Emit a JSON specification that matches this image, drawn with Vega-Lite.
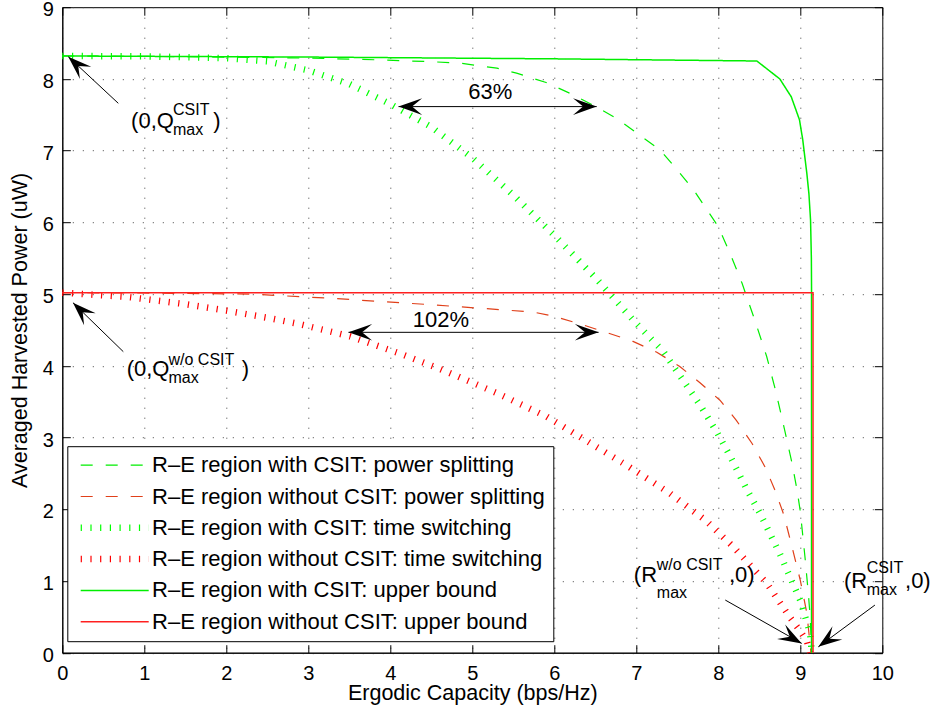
{
  "$schema": "https://vega.github.io/schema/vega-lite/v6.json",
  "width": 820,
  "height": 645.5,
  "autosize": {"type": "none"},
  "padding": {"left": 62.3, "top": 7.2, "right": 53.7, "bottom": 65.3},
  "background": "white",
  "config": {
    "view": {"stroke": "black", "strokeWidth": 1},
    "font": "Liberation Sans",
    "axis": {"labelFont": "Liberation Sans", "titleFont": "Liberation Sans", "labelColor": "black", "titleColor": "black", "tickColor": "black", "domainColor": "black", "titleFontWeight": "normal", "tickWidth": 1, "domainWidth": 1}
  },
  "datasets": {
    "curves": [
      {"s": "R–E region with CSIT: power splitting", "x": 0, "y": 8.32},
      {"s": "R–E region with CSIT: power splitting", "x": 1, "y": 8.315},
      {"s": "R–E region with CSIT: power splitting", "x": 2, "y": 8.305},
      {"s": "R–E region with CSIT: power splitting", "x": 3, "y": 8.29},
      {"s": "R–E region with CSIT: power splitting", "x": 3.88, "y": 8.265},
      {"s": "R–E region with CSIT: power splitting", "x": 4.5, "y": 8.24},
      {"s": "R–E region with CSIT: power splitting", "x": 4.85, "y": 8.22},
      {"s": "R–E region with CSIT: power splitting", "x": 5.3, "y": 8.15},
      {"s": "R–E region with CSIT: power splitting", "x": 5.54, "y": 8.08},
      {"s": "R–E region with CSIT: power splitting", "x": 5.9, "y": 7.95},
      {"s": "R–E region with CSIT: power splitting", "x": 6.19, "y": 7.8},
      {"s": "R–E region with CSIT: power splitting", "x": 6.48, "y": 7.63},
      {"s": "R–E region with CSIT: power splitting", "x": 6.76, "y": 7.45},
      {"s": "R–E region with CSIT: power splitting", "x": 7.0, "y": 7.25},
      {"s": "R–E region with CSIT: power splitting", "x": 7.29, "y": 7.01},
      {"s": "R–E region with CSIT: power splitting", "x": 7.5, "y": 6.73},
      {"s": "R–E region with CSIT: power splitting", "x": 7.7, "y": 6.45},
      {"s": "R–E region with CSIT: power splitting", "x": 8.0, "y": 5.94},
      {"s": "R–E region with CSIT: power splitting", "x": 8.15, "y": 5.55},
      {"s": "R–E region with CSIT: power splitting", "x": 8.29, "y": 5.15},
      {"s": "R–E region with CSIT: power splitting", "x": 8.45, "y": 4.62},
      {"s": "R–E region with CSIT: power splitting", "x": 8.59, "y": 4.13},
      {"s": "R–E region with CSIT: power splitting", "x": 8.7, "y": 3.65},
      {"s": "R–E region with CSIT: power splitting", "x": 8.81, "y": 3.1},
      {"s": "R–E region with CSIT: power splitting", "x": 8.9, "y": 2.64},
      {"s": "R–E region with CSIT: power splitting", "x": 8.96, "y": 2.27},
      {"s": "R–E region with CSIT: power splitting", "x": 9.0, "y": 1.97},
      {"s": "R–E region with CSIT: power splitting", "x": 9.06, "y": 1.3},
      {"s": "R–E region with CSIT: power splitting", "x": 9.1, "y": 0.8},
      {"s": "R–E region with CSIT: power splitting", "x": 9.12, "y": 0.5},
      {"s": "R–E region with CSIT: power splitting", "x": 9.14, "y": 0},
      {"s": "R–E region without CSIT: power splitting", "x": 0, "y": 5.02},
      {"s": "R–E region without CSIT: power splitting", "x": 1, "y": 5.015},
      {"s": "R–E region without CSIT: power splitting", "x": 2.29, "y": 5.0},
      {"s": "R–E region without CSIT: power splitting", "x": 3.3, "y": 4.94},
      {"s": "R–E region without CSIT: power splitting", "x": 4.52, "y": 4.85},
      {"s": "R–E region without CSIT: power splitting", "x": 5.74, "y": 4.75},
      {"s": "R–E region without CSIT: power splitting", "x": 6.0, "y": 4.69},
      {"s": "R–E region without CSIT: power splitting", "x": 6.35, "y": 4.57},
      {"s": "R–E region without CSIT: power splitting", "x": 6.65, "y": 4.46},
      {"s": "R–E region without CSIT: power splitting", "x": 6.96, "y": 4.34},
      {"s": "R–E region without CSIT: power splitting", "x": 7.25, "y": 4.19},
      {"s": "R–E region without CSIT: power splitting", "x": 7.53, "y": 3.99},
      {"s": "R–E region without CSIT: power splitting", "x": 7.78, "y": 3.76},
      {"s": "R–E region without CSIT: power splitting", "x": 8.02, "y": 3.52},
      {"s": "R–E region without CSIT: power splitting", "x": 8.22, "y": 3.24},
      {"s": "R–E region without CSIT: power splitting", "x": 8.41, "y": 2.92},
      {"s": "R–E region without CSIT: power splitting", "x": 8.57, "y": 2.59},
      {"s": "R–E region without CSIT: power splitting", "x": 8.69, "y": 2.27},
      {"s": "R–E region without CSIT: power splitting", "x": 8.8, "y": 1.92},
      {"s": "R–E region without CSIT: power splitting", "x": 8.9, "y": 1.47},
      {"s": "R–E region without CSIT: power splitting", "x": 9.0, "y": 1.01},
      {"s": "R–E region without CSIT: power splitting", "x": 9.08, "y": 0.55},
      {"s": "R–E region without CSIT: power splitting", "x": 9.13, "y": 0},
      {"s": "R–E region with CSIT: time switching", "x": 0, "y": 8.32},
      {"s": "R–E region with CSIT: time switching", "x": 1, "y": 8.315},
      {"s": "R–E region with CSIT: time switching", "x": 2.0, "y": 8.29},
      {"s": "R–E region with CSIT: time switching", "x": 2.5, "y": 8.245},
      {"s": "R–E region with CSIT: time switching", "x": 3.0, "y": 8.12},
      {"s": "R–E region with CSIT: time switching", "x": 3.5, "y": 7.93},
      {"s": "R–E region with CSIT: time switching", "x": 4.0, "y": 7.65},
      {"s": "R–E region with CSIT: time switching", "x": 4.5, "y": 7.33},
      {"s": "R–E region with CSIT: time switching", "x": 5.0, "y": 6.9},
      {"s": "R–E region with CSIT: time switching", "x": 5.5, "y": 6.38},
      {"s": "R–E region with CSIT: time switching", "x": 6.0, "y": 5.82},
      {"s": "R–E region with CSIT: time switching", "x": 6.5, "y": 5.23},
      {"s": "R–E region with CSIT: time switching", "x": 7.0, "y": 4.59},
      {"s": "R–E region with CSIT: time switching", "x": 7.33, "y": 4.2},
      {"s": "R–E region with CSIT: time switching", "x": 7.57, "y": 3.8},
      {"s": "R–E region with CSIT: time switching", "x": 7.78, "y": 3.45},
      {"s": "R–E region with CSIT: time switching", "x": 7.98, "y": 3.08},
      {"s": "R–E region with CSIT: time switching", "x": 8.14, "y": 2.75},
      {"s": "R–E region with CSIT: time switching", "x": 8.35, "y": 2.27},
      {"s": "R–E region with CSIT: time switching", "x": 8.51, "y": 1.94},
      {"s": "R–E region with CSIT: time switching", "x": 8.75, "y": 1.38},
      {"s": "R–E region with CSIT: time switching", "x": 9.0, "y": 0.73},
      {"s": "R–E region with CSIT: time switching", "x": 9.12, "y": 0.27},
      {"s": "R–E region with CSIT: time switching", "x": 9.14, "y": 0},
      {"s": "R–E region without CSIT: time switching", "x": 0, "y": 5.02},
      {"s": "R–E region without CSIT: time switching", "x": 0.8, "y": 4.96},
      {"s": "R–E region without CSIT: time switching", "x": 1.5, "y": 4.86},
      {"s": "R–E region without CSIT: time switching", "x": 2.0, "y": 4.77},
      {"s": "R–E region without CSIT: time switching", "x": 2.5, "y": 4.67},
      {"s": "R–E region without CSIT: time switching", "x": 2.9, "y": 4.58},
      {"s": "R–E region without CSIT: time switching", "x": 3.51, "y": 4.41},
      {"s": "R–E region without CSIT: time switching", "x": 4.12, "y": 4.17},
      {"s": "R–E region without CSIT: time switching", "x": 4.6, "y": 3.96},
      {"s": "R–E region without CSIT: time switching", "x": 5.3, "y": 3.62},
      {"s": "R–E region without CSIT: time switching", "x": 5.91, "y": 3.29},
      {"s": "R–E region without CSIT: time switching", "x": 6.4, "y": 2.95},
      {"s": "R–E region without CSIT: time switching", "x": 6.9, "y": 2.6},
      {"s": "R–E region without CSIT: time switching", "x": 7.4, "y": 2.23},
      {"s": "R–E region without CSIT: time switching", "x": 7.85, "y": 1.84},
      {"s": "R–E region without CSIT: time switching", "x": 8.18, "y": 1.48},
      {"s": "R–E region without CSIT: time switching", "x": 8.59, "y": 0.97},
      {"s": "R–E region without CSIT: time switching", "x": 8.87, "y": 0.5},
      {"s": "R–E region without CSIT: time switching", "x": 9.0, "y": 0.3},
      {"s": "R–E region without CSIT: time switching", "x": 9.08, "y": 0.16},
      {"s": "R–E region without CSIT: time switching", "x": 9.12, "y": 0},
      {"s": "R–E region with CSIT: upper bound", "x": 0, "y": 8.32},
      {"s": "R–E region with CSIT: upper bound", "x": 3, "y": 8.305},
      {"s": "R–E region with CSIT: upper bound", "x": 6, "y": 8.28},
      {"s": "R–E region with CSIT: upper bound", "x": 8.47, "y": 8.25},
      {"s": "R–E region with CSIT: upper bound", "x": 8.75, "y": 8.0},
      {"s": "R–E region with CSIT: upper bound", "x": 8.89, "y": 7.75},
      {"s": "R–E region with CSIT: upper bound", "x": 8.99, "y": 7.43},
      {"s": "R–E region with CSIT: upper bound", "x": 9.03, "y": 7.15},
      {"s": "R–E region with CSIT: upper bound", "x": 9.08, "y": 6.68},
      {"s": "R–E region with CSIT: upper bound", "x": 9.105, "y": 6.4},
      {"s": "R–E region with CSIT: upper bound", "x": 9.125, "y": 6.03},
      {"s": "R–E region with CSIT: upper bound", "x": 9.135, "y": 5.5},
      {"s": "R–E region with CSIT: upper bound", "x": 9.137, "y": 5.1},
      {"s": "R–E region with CSIT: upper bound", "x": 9.137, "y": 0},
      {"s": "R–E region without CSIT: upper bound", "x": 0, "y": 5.02},
      {"s": "R–E region without CSIT: upper bound", "x": 9.155, "y": 5.02},
      {"s": "R–E region without CSIT: upper bound", "x": 9.155, "y": 0}
    ],
    "arrows": [
      {"x": 0.683, "y": 7.66, "x2": 0.073, "y2": 8.31},
      {"x": 0.744, "y": 4.197, "x2": 0.13, "y2": 4.88},
      {"x": 8.085, "y": 0.734, "x2": 9.017, "y2": 0.13},
      {"x": 9.91, "y": 0.664, "x2": 9.22, "y2": 0.082},
      {"x": 4.1, "y": 7.614, "x2": 6.517, "y2": 7.614},
      {"x": 3.49, "y": 4.467, "x2": 6.54, "y2": 4.467}
    ],
    "heads": [
      {"x": 0.073, "y": 8.31, "a": 223},
      {"x": 0.13, "y": 4.88, "a": 224.3},
      {"x": 9.017, "y": 0.13, "a": 29.4},
      {"x": 9.22, "y": 0.082, "a": 143.7},
      {"x": 4.1, "y": 7.614, "a": 180},
      {"x": 6.517, "y": 7.614, "a": 0},
      {"x": 3.49, "y": 4.467, "a": 180},
      {"x": 6.54, "y": 4.467, "a": 0}
    ],
    "bigtext": [
      {"x": 0.839, "y": 7.32, "t": "(0,Q"},
      {"x": 1.84, "y": 7.32, "t": ")"},
      {"x": 0.785, "y": 3.86, "t": "(0,Q"},
      {"x": 2.188, "y": 3.86, "t": ")"},
      {"x": 6.97, "y": 0.989, "t": "(R"},
      {"x": 8.13, "y": 0.989, "t": ",0)"},
      {"x": 9.533, "y": 0.897, "t": "(R"},
      {"x": 10.277, "y": 0.897, "t": ",0)"},
      {"x": 4.95, "y": 7.717, "t": "63%"},
      {"x": 4.273, "y": 4.545, "t": "102%"}
    ],
    "smalltext": [
      {"x": 1.35, "y": 7.5, "t": "CSIT"},
      {"x": 1.35, "y": 7.22, "t": "max"},
      {"x": 1.295, "y": 4.01, "t": "w/o CSIT"},
      {"x": 1.295, "y": 3.756, "t": "max"},
      {"x": 7.25, "y": 1.152, "t": "w/o CSIT"},
      {"x": 7.25, "y": 0.76, "t": "max"},
      {"x": 9.81, "y": 1.106, "t": "CSIT"},
      {"x": 9.81, "y": 0.803, "t": "max"}
    ]
  },
  "resolve": {"axis": {"x": "independent", "y": "independent"}},
  "layer": [
    {
      "data": {"name": "curves"},
      "mark": {"type": "line", "strokeCap": "butt"},
      "encoding": {
        "x": {"field": "x", "type": "quantitative", "scale": {"domain": [0, 10], "nice": false, "zero": false},
          "axis": {"orient": "bottom", "values": [0,1,2,3,4,5,6,7,8,9,10], "format": "d", "tickSize": -8, "labelPadding": 19, "labelFontSize": 20, "labelFlush": false, "labelOverlap": false, "grid": true, "gridDash": [1, 9], "gridColor": "#444", "gridWidth": 1, "title": "Ergodic Capacity (bps/Hz)", "titleFontSize": 21.5, "titleY": 46.5, "titleBaseline": "alphabetic"}},
        "y": {"field": "y", "type": "quantitative", "scale": {"domain": [0, 9], "nice": false, "zero": false},
          "axis": {"orient": "left", "values": [0,1,2,3,4,5,6,7,8,9], "format": "d", "tickSize": -8, "labelPadding": 17, "labelFontSize": 20, "labelOffset": 2.5, "labelFlush": false, "labelOverlap": false, "grid": true, "gridDash": [1, 9], "gridColor": "#444", "gridWidth": 1, "title": "Averaged Harvested Power (uW)", "titleFontSize": 21.5, "titleX": -36, "titleY": 322.75, "titleAlign": "center", "titleBaseline": "alphabetic"}},
        "color": {"field": "s", "type": "nominal",
          "scale": {"domain": ["R–E region with CSIT: power splitting", "R–E region without CSIT: power splitting", "R–E region with CSIT: time switching", "R–E region without CSIT: time switching", "R–E region with CSIT: upper bound", "R–E region without CSIT: upper bound"],
            "range": ["#00ee00", "#e0401a", "#00ff00", "#ff0000", "#00ee00", "#ff2020"]},
          "legend": {"title": null, "orient": "none", "legendX": 5, "legendY": 439, "padding": 8, "strokeColor": "black", "fillColor": "white", "cornerRadius": 0, "labelFont": "Liberation Sans", "labelFontSize": 22, "labelColor": "black", "labelLimit": 0, "rowPadding": 9.3, "clipHeight": 22, "symbolType": "M0,0H10", "symbolSize": 185, "symbolOffset": -5.6, "labelOffset": 60.4}},
        "strokeDash": {"field": "s", "type": "nominal",
          "scale": {"domain": ["R–E region with CSIT: power splitting", "R–E region without CSIT: power splitting", "R–E region with CSIT: time switching", "R–E region without CSIT: time switching", "R–E region with CSIT: upper bound", "R–E region without CSIT: upper bound"],
            "range": [[12, 13], [12, 13], [1.2, 8.5], [1.2, 8.5], [1, 0], [1, 0]]},
          "legend": {"title": null}},
        "strokeWidth": {"field": "s", "type": "nominal",
          "scale": {"type": "ordinal", "domain": ["R–E region with CSIT: power splitting", "R–E region without CSIT: power splitting", "R–E region with CSIT: time switching", "R–E region without CSIT: time switching", "R–E region with CSIT: upper bound", "R–E region without CSIT: upper bound"],
            "range": [1.2, 1.2, 6.5, 6.5, 1.5, 1.5]},
          "legend": {"title": null}},
        "order": [{"field": "y", "type": "quantitative", "sort": "descending"}, {"field": "x", "type": "quantitative", "sort": "ascending"}]
      }
    },
    {
      "data": {"name": "arrows"},
      "mark": {"type": "rule", "color": "black", "strokeWidth": 1},
      "encoding": {
        "x": {"field": "x", "type": "quantitative", "scale": {"domain": [0, 10], "nice": false, "zero": false}, "axis": null},
        "y": {"field": "y", "type": "quantitative", "scale": {"domain": [0, 9], "nice": false, "zero": false}, "axis": null},
        "x2": {"field": "x2"},
        "y2": {"field": "y2"}
      }
    },
    {
      "data": {"name": "heads"},
      "mark": {"type": "point", "shape": "M0,0L-2,-0.7L-1.15,0L-2,0.7Z", "filled": true, "color": "black", "opacity": 1, "size": 560, "strokeWidth": 0},
      "encoding": {
        "x": {"field": "x", "type": "quantitative", "scale": {"domain": [0, 10], "nice": false, "zero": false},
          "axis": {"orient": "top", "values": [0,1,2,3,4,5,6,7,8,9,10], "tickSize": -8, "labels": false, "domain": false, "grid": false, "title": null}},
        "y": {"field": "y", "type": "quantitative", "scale": {"domain": [0, 9], "nice": false, "zero": false},
          "axis": {"orient": "right", "values": [0,1,2,3,4,5,6,7,8,9], "tickSize": -8, "labels": false, "domain": false, "grid": false, "title": null}},
        "angle": {"field": "a", "type": "quantitative", "scale": null}
      }
    },
    {
      "data": {"name": "bigtext"},
      "mark": {"type": "text", "align": "left", "baseline": "alphabetic", "font": "Liberation Sans", "fontSize": 22, "color": "black"},
      "encoding": {
        "x": {"field": "x", "type": "quantitative", "scale": {"domain": [0, 10], "nice": false, "zero": false}, "axis": null},
        "y": {"field": "y", "type": "quantitative", "scale": {"domain": [0, 9], "nice": false, "zero": false}, "axis": null},
        "text": {"field": "t"}
      }
    },
    {
      "data": {"name": "smalltext"},
      "mark": {"type": "text", "align": "left", "baseline": "alphabetic", "font": "Liberation Sans", "fontSize": 16, "color": "black"},
      "encoding": {
        "x": {"field": "x", "type": "quantitative", "scale": {"domain": [0, 10], "nice": false, "zero": false}, "axis": null},
        "y": {"field": "y", "type": "quantitative", "scale": {"domain": [0, 9], "nice": false, "zero": false}, "axis": null},
        "text": {"field": "t"}
      }
    }
  ]
}
